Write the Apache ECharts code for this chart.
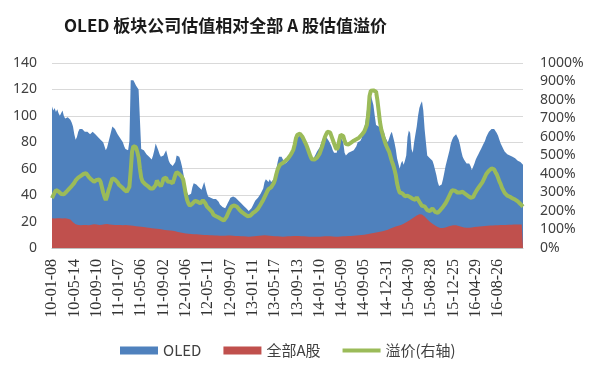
<!DOCTYPE html>
<html>
<head>
<meta charset="utf-8">
<script src="https://cdn.jsdelivr.net/npm/echarts@6/dist/echarts.min.js"></script>
<style>
html,body{margin:0;padding:0;background:#fff;}
#chart{width:599px;height:370px;}
</style>
</head>
<body>
<div id="chart"></div>
<script>
// Tick labels shown every 17 weeks on the category axis
const tickLabels = ['10-01-08','10-05-14','10-09-10','11-01-07','11-05-06','11-09-02','12-01-06','12-05-11','12-09-07','13-01-11','13-05-17','13-09-13','14-01-10','14-05-09','14-09-05','14-12-31','15-04-30','15-08-28','15-12-25','16-04-29','16-08-26'];

// OLED sector PE (left axis), weekly
const oledPE = [
107,104,106,103,105,102,100,101,104,100,
98,99,99,100,97,95,92,86,82,84,
88,90,89,90,89,88,89,88,87,86,
87,88,87,86,85,84,83,82,81,80,
77,74,76,80,84,88,92,93,90,88,
86,85,83,82,80,77,75,74,74,81,
127,128,127,125,123,122,120,119,75,75,
74,73,71,70,69,68,67,70,74,79,
80,74,71,69,68,70,71,74,73,66,
64,63,62,61,65,70,69,69,66,62,
57,51,45,42,40,39,41,46,49,50,
48,48,46,45,44,45,50,46,42,39,
38,38,37,37,38,37,36,35,33,32,
31,30,30,32,34,36,38,38,39,38,
38,37,36,35,34,33,32,31,30,29,
28,28,30,32,34,36,37,38,39,41,
42,45,50,52,51,50,52,50,49,52,
56,60,65,69,70,69,67,66,64,65,
66,67,70,72,74,78,81,84,85,85,
84,82,80,78,76,73,70,68,66,66,
69,71,73,74,76,79,82,84,85,84,
83,81,79,77,74,72,71,72,78,82,
84,83,80,72,70,71,72,73,73,74,
74,75,77,80,80,81,83,86,91,96,
104,110,113,116,115,108,100,93,92,92,
93,91,90,88,84,82,80,83,86,88,
87,80,75,68,64,60,64,66,63,66,
70,84,89,87,75,72,80,86,92,100,
106,109,111,104,90,80,70,71,68,69,
66,63,59,55,50,47,46,48,52,57,
62,66,70,74,79,82,84,85,86,85,
82,78,73,69,67,66,64,63,64,62,
59,60,64,67,69,71,73,75,77,79,
81,84,86,88,89,90,91,90,89,87,
85,82,79,77,75,73,72,71,70,70,
70,69,68,68,67,66,65,65,64,63
];

// All A-share PE (left axis), weekly
const allAPE = [
22.5,22.7,22.4,22.6,22.5,22.8,22.6,22.4,22.3,22.5,
22.6,22.4,22.2,22.0,21.5,20.5,19.5,18.5,18.0,17.6,
17.4,17.5,17.3,17.2,17.4,17.6,17.5,17.3,17.2,17.4,
17.6,17.8,17.9,18.0,17.8,17.6,17.5,17.4,17.6,17.8,
17.9,18.0,18.1,17.9,17.8,17.7,17.6,17.5,17.4,17.3,
17.4,17.5,17.4,17.3,17.2,17.3,17.4,17.3,17.2,17.1,
17.0,16.9,16.8,16.6,16.5,16.4,16.3,16.2,16.1,16.0,
15.8,15.6,15.5,15.4,15.3,15.2,15.0,14.8,14.7,14.6,
14.5,14.4,14.3,14.2,14.0,13.8,13.7,13.6,13.5,13.4,
13.3,13.2,13.0,12.8,12.6,12.4,12.2,12.0,11.8,11.6,
11.4,11.2,11.0,10.9,10.8,10.7,10.6,10.5,10.5,10.4,
10.4,10.3,10.2,10.1,10.0,10.0,9.9,9.9,9.8,9.8,
9.7,9.7,9.6,9.6,9.5,9.5,9.4,9.4,9.3,9.3,
9.2,9.2,9.3,9.4,9.5,9.6,9.5,9.4,9.3,9.2,
9.1,9.0,9.0,8.9,8.9,8.8,8.8,8.7,8.7,8.6,
8.6,8.6,8.7,8.8,8.9,9.0,9.1,9.2,9.3,9.4,
9.5,9.6,9.6,9.5,9.4,9.3,9.2,9.1,9.0,8.9,
8.9,8.8,8.8,8.7,8.7,8.6,8.6,8.6,8.7,8.7,
8.8,8.8,8.9,9.0,9.0,9.1,9.1,9.0,9.0,8.9,
8.9,8.8,8.8,8.7,8.7,8.6,8.6,8.6,8.5,8.5,
8.5,8.5,8.6,8.6,8.6,8.7,8.7,8.8,8.8,8.8,
8.9,8.9,8.8,8.8,8.7,8.7,8.6,8.6,8.6,8.7,
8.7,8.8,8.8,8.9,8.9,9.0,9.0,9.1,9.1,9.2,
9.3,9.4,9.5,9.6,9.7,9.8,9.9,10.0,10.1,10.2,
10.4,10.6,10.8,11.0,11.2,11.4,11.6,11.8,12.0,12.2,
12.3,12.5,12.7,12.9,13.2,13.5,13.9,14.3,14.7,15.1,
15.5,15.9,16.2,16.5,16.8,17.1,17.4,17.8,18.3,18.9,
19.5,20.1,20.7,21.3,21.9,22.5,23.2,23.9,24.6,25.2,
25.6,25.8,25.4,24.8,23.9,22.9,21.8,20.8,19.8,19.0,
18.3,17.6,17.0,16.4,15.9,15.5,15.2,15.0,15.1,15.3,
15.6,15.9,16.2,16.5,16.8,17.1,17.3,17.4,17.2,16.9,
16.6,16.3,16.0,15.7,15.5,15.4,15.3,15.3,15.4,15.5,
15.6,15.7,15.8,15.9,16.0,16.1,16.2,16.3,16.4,16.5,
16.6,16.7,16.8,16.9,17.0,17.1,17.1,17.2,17.2,17.3,
17.3,17.4,17.4,17.4,17.5,17.5,17.5,17.6,17.6,17.6,
17.6,17.7,17.7,17.7,17.7,17.8,17.8,17.8,17.8,17.8
];

// Premium in percent (right axis), weekly
const premiumPct = [
270,280,300,313,310,305,300,292,286,290,
298,304,312,320,328,335,340,352,365,372,
380,385,390,395,400,404,404,395,385,377,
370,360,358,360,368,377,370,358,330,300,
277,259,280,310,331,355,377,375,370,367,
355,342,338,330,322,315,308,304,310,331,
420,520,550,557,545,520,490,430,380,360,
350,345,340,335,325,322,320,322,330,340,
365,350,340,335,350,375,385,380,360,352,
358,365,350,372,395,410,412,400,395,385,
370,330,290,259,240,228,225,240,250,255,
259,250,243,241,250,258,255,240,225,218,
210,205,195,180,175,172,169,165,160,156,
152,149,155,168,185,200,214,225,232,230,
226,223,215,205,198,192,187,182,178,172,
170,174,180,188,194,198,204,212,222,235,
248,260,275,290,305,318,322,328,331,350,
370,400,425,440,452,458,460,466,472,476,
485,494,505,518,532,560,595,612,620,618,
608,600,585,570,555,535,515,495,480,476,
478,480,488,495,510,530,550,575,600,615,
628,630,625,605,585,565,545,532,545,585,
612,620,605,580,562,557,560,565,570,575,
580,584,588,592,596,603,611,620,630,640,
665,720,820,850,854,852,850,845,800,740,
680,640,615,590,568,550,535,520,495,470,
450,425,395,350,320,300,298,295,290,280,
278,283,286,275,268,265,262,260,275,265,
250,240,228,230,225,218,205,208,200,210,
214,205,195,188,190,198,205,215,222,232,
242,255,270,285,300,312,313,310,306,300,
296,300,305,304,298,292,288,282,277,272,
265,275,290,300,315,325,335,345,355,365,
385,400,410,418,425,430,432,425,410,398,
380,360,345,325,312,298,288,283,280,277,
272,268,265,262,258,252,245,238,230,223
];

const seriesNames = ['OLED', '全部A股', '溢价(右轴)'];
const LABEL_STEP = 17;
const categories = oledPE.map((_, i) => String(i));

const chart = echarts.init(document.getElementById('chart'), null, {renderer: 'canvas'});
chart.setOption({
  animation: false,
  backgroundColor: '#ffffff',
  color: ['#4F81BD', '#C0504D', '#9BBB59'],
  title: {
    text: 'OLED 板块公司估值相对全部 A 股估值溢价',
    left: 59,
    top: 12,
    textStyle: {fontFamily: 'Noto Sans CJK SC', fontSize: 17, fontWeight: 'bold', color: '#1a1a1a'}
  },
  legend: {
    data: [
      {name: seriesNames[0], icon: 'rect'},
      {name: seriesNames[1], icon: 'rect'},
      {name: seriesNames[2], icon: 'path://M0,0 L38,0 L38,4 L0,4 Z', itemStyle: {color: '#9BBB59'}}
    ],
    left: 115,
    top: 338,
    itemWidth: 38,
    itemHeight: 8,
    itemGap: 22,
    textStyle: {fontFamily: 'Noto Sans CJK SC', fontSize: 15, color: '#404040'}
  },
  grid: {left: 52, right: 76, top: 63, bottom: 122},
  xAxis: {
    type: 'category',
    data: categories,
    boundaryGap: false,
    axisLine: {show: true, lineStyle: {color: '#bfbfbf'}},
    axisTick: {show: false},
    splitLine: {show: false},
    axisLabel: {
      interval: LABEL_STEP - 1,
      rotate: 90,
      margin: 11,
      fontFamily: 'Liberation Serif',
      fontSize: 16,
      color: '#333333',
      formatter: (v, idx) => (idx % LABEL_STEP === 0 && tickLabels[idx / LABEL_STEP]) ? tickLabels[idx / LABEL_STEP] : ''
    }
  },
  yAxis: [
    {
      type: 'value', min: 0, max: 140, interval: 20,
      axisLine: {show: false}, axisTick: {show: false},
      splitLine: {lineStyle: {color: '#d9d9d9', width: 1}},
      axisLabel: {margin: 15, fontFamily: 'Noto Sans', fontSize: 14, color: '#404040'}
    },
    {
      type: 'value', min: 0, max: 1000, interval: 100, position: 'right',
      axisLine: {show: false}, axisTick: {show: false},
      splitLine: {show: false},
      axisLabel: {margin: 17, fontFamily: 'Noto Sans', fontSize: 14, color: '#404040', formatter: (v) => v + '%'}
    }
  ],
  series: [
    {
      name: seriesNames[0], type: 'line', data: oledPE, symbol: 'none',
      lineStyle: {width: 0}, areaStyle: {color: '#4F81BD', opacity: 1},
      itemStyle: {color: '#4F81BD'}, z: 2
    },
    {
      name: seriesNames[1], type: 'line', data: allAPE, symbol: 'none',
      lineStyle: {width: 0}, areaStyle: {color: '#C0504D', opacity: 1},
      itemStyle: {color: '#C0504D'}, z: 3
    },
    {
      name: seriesNames[2], type: 'line', yAxisIndex: 1, data: premiumPct, symbol: 'none',
      lineStyle: {width: 4, color: '#9BBB59'}, itemStyle: {color: '#9BBB59'}, z: 4
    }
  ]
});
</script>
</body>
</html>
